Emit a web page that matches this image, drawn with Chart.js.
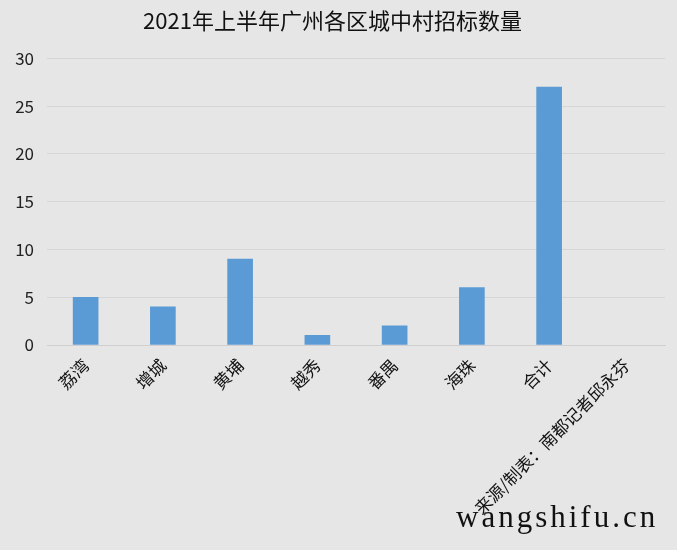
<!DOCTYPE html>
<html>
<head>
<meta charset="utf-8">
<script src="https://cdn.jsdelivr.net/npm/chart.js@4"></script>
<style>
  html, body { margin: 0; padding: 0; background: #e7e6e6; }
  #wrap { width: 677px; height: 550px; }
</style>
</head>
<body>
<div id="wrap"><canvas id="chart"></canvas></div>
<script>
// Data
const districts = ['荔湾', '增城', '黄埔', '越秀', '番禺', '海珠', '合计', '来源/制表：南都记者邱永芬'];
const bidCounts = [5, 4, 9, 1, 2, 6, 27, null];
const yTicks = [0, 5, 10, 15, 20, 25, 30];

const cjk = '"Noto Sans CJK SC", "Noto Sans", sans-serif';

// Watermark text in the bottom right corner
const watermark = {
    id: 'watermark',
    afterDraw(chart) {
        const ctx = chart.ctx;
        ctx.save();
        ctx.font = '31px "Liberation Serif", serif';
        ctx.letterSpacing = '3px';
        ctx.fillStyle = '#111';
        ctx.textAlign = 'left';
        ctx.textBaseline = 'alphabetic';
        ctx.fillText('wangshifu.cn', 456, 527);
        ctx.restore();
    }
};

const ctx = document.getElementById('chart').getContext('2d');
new Chart(ctx, {
    type: 'bar',
    data: {
        labels: districts,
        datasets: [{
            label: '招标数量',
            data: bidCounts,
            backgroundColor: '#5b9bd5',
            barThickness: 25
        }]
    },
    options: {
        responsive: true,
        maintainAspectRatio: false,
        animation: false,
        layout: { padding: { left: 0, right: 12, top: 0, bottom: 0 } },
        plugins: {
            legend: { display: false },
            tooltip: { enabled: false },
            title: {
                display: true,
                text: '2021年上半年广州各区城中村招标数量',
                color: '#111',
                font: { family: cjk, size: 22, weight: 'normal' },
                padding: { top: 7, bottom: 25 }
            }
        },
        scales: {
            x: {
                grid: { display: false, drawTicks: false },
                border: { color: '#d0cece' },
                ticks: {
                    color: '#111',
                    font: { family: cjk, size: 17 },
                    maxRotation: 45,
                    minRotation: 45,
                    autoSkip: false,
                    padding: 10
                },
                afterFit(scale) { scale.height = 205; }
            },
            y: {
                min: 0,
                max: 30,
                afterBuildTicks(scale) { scale.ticks = yTicks.map(v => ({ value: v })); },
                grid: { color: '#d6d6d6', drawTicks: false },
                border: { display: false },
                ticks: {
                    color: '#222',
                    font: { family: cjk, size: 17 },
                    padding: 13
                },
                afterFit(scale) { scale.width = 47; }
            }
        }
    },
    plugins: [watermark]
});
</script>
</body>
</html>
